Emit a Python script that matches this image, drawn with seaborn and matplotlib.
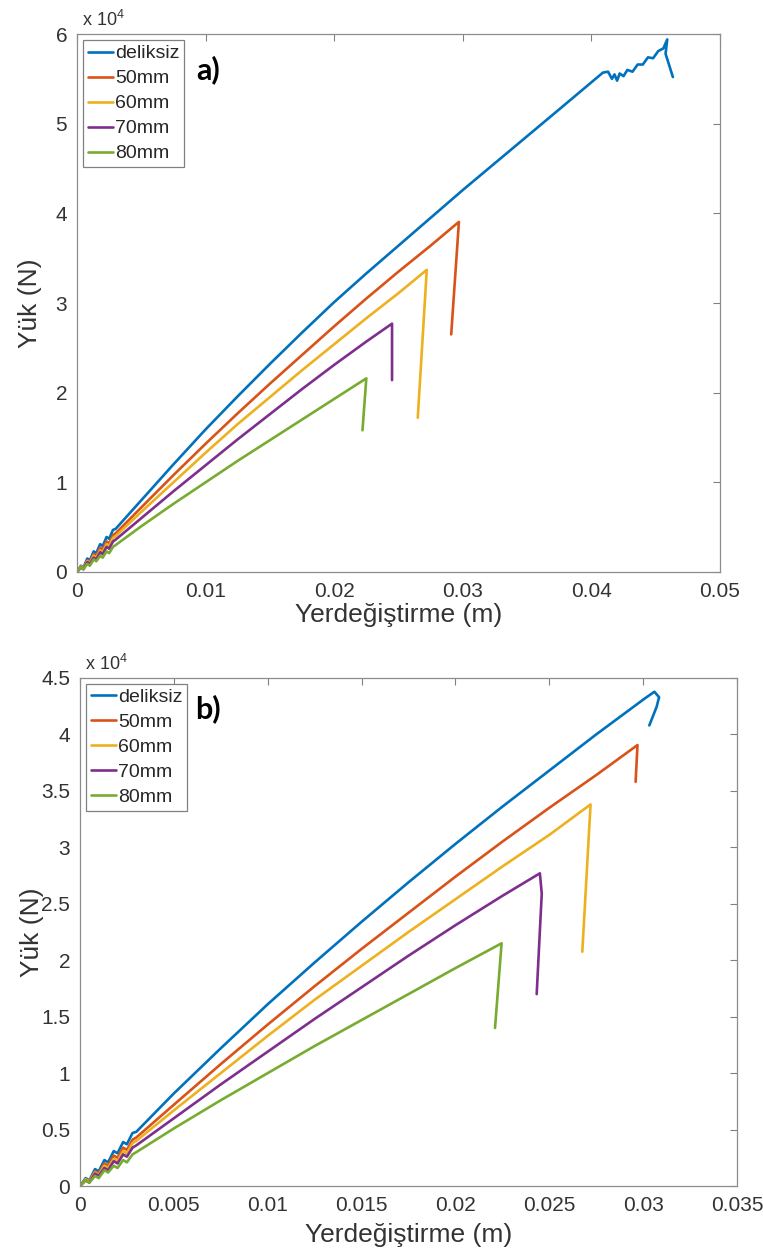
import pandas as pd
import seaborn as sns
import matplotlib.pyplot as plt
from matplotlib.lines import Line2D

sns.set_theme(style='white')
plt.rcParams['font.family'] = ['Liberation Sans', 'DejaVu Sans']
plt.rcParams['mathtext.fontset'] = 'custom'
plt.rcParams['mathtext.rm'] = 'Liberation Sans'

names = ['deliksiz', '50mm', '60mm', '70mm', '80mm']
colors = ['#0072BD', '#D95319', '#EDB120', '#7E2F8E', '#77AC30']

# load in units of 10^4 N, displacement in m
# saw-tooth start, same for both tests
start_x = [0, 0.0003, 0.0005, 0.0008, 0.001, 0.0013, 0.0015, 0.0018, 0.002, 0.0023, 0.0025, 0.0028, 0.003]
start_deliksiz = [0, 0.07, 0.05, 0.15, 0.13, 0.23, 0.21, 0.31, 0.29, 0.39, 0.37, 0.47, 0.48]
start_50 = [0, 0.06, 0.04, 0.13, 0.11, 0.20, 0.18, 0.27, 0.25, 0.34, 0.32, 0.41, 0.43]
start_60 = [0, 0.06, 0.04, 0.12, 0.10, 0.18, 0.16, 0.24, 0.22, 0.31, 0.29, 0.38, 0.40]
start_70 = [0, 0.05, 0.03, 0.11, 0.09, 0.16, 0.14, 0.22, 0.20, 0.28, 0.26, 0.34, 0.36]
start_80 = [0, 0.05, 0.03, 0.09, 0.07, 0.14, 0.12, 0.18, 0.16, 0.23, 0.21, 0.28, 0.30]

# panel a
a_deliksiz_x = [0.005, 0.0075, 0.01, 0.0125, 0.015, 0.0175, 0.02, 0.0225, 0.025, 0.0275, 0.03, 0.0325,
                0.035, 0.0375, 0.0409, 0.0413, 0.0416, 0.0418, 0.0420, 0.0422, 0.0425, 0.0428, 0.0432,
                0.0436, 0.0440, 0.0444, 0.0448, 0.0452, 0.0456, 0.0459, 0.04577, 0.04634]
a_deliksiz_y = [0.80, 1.20, 1.59, 1.96, 2.32, 2.67, 3.01, 3.33, 3.64, 3.95, 4.26, 4.56,
                4.86, 5.16, 5.57, 5.58, 5.50, 5.55, 5.48, 5.56, 5.53, 5.60, 5.58,
                5.66, 5.66, 5.74, 5.73, 5.81, 5.84, 5.94, 5.78, 5.52]
a_50_x = [0.005, 0.0075, 0.01, 0.0125, 0.015, 0.0175, 0.02, 0.0225, 0.025, 0.0275, 0.0297, 0.0291]
a_50_y = [0.72, 1.08, 1.43, 1.77, 2.10, 2.42, 2.74, 3.05, 3.35, 3.64, 3.905, 2.65]
a_60_x = [0.005, 0.0075, 0.01, 0.0125, 0.015, 0.0175, 0.02, 0.0225, 0.025, 0.0272, 0.0265]
a_60_y = [0.67, 1.00, 1.33, 1.65, 1.95, 2.25, 2.54, 2.83, 3.11, 3.37, 1.72]
a_70_x = [0.005, 0.0075, 0.01, 0.0125, 0.015, 0.0175, 0.02, 0.0225, 0.0245, 0.0245]
a_70_y = [0.60, 0.90, 1.19, 1.48, 1.76, 2.04, 2.31, 2.57, 2.77, 2.14]
a_80_x = [0.005, 0.0075, 0.01, 0.0125, 0.015, 0.0175, 0.02, 0.0225, 0.0222]
a_80_y = [0.51, 0.76, 1.00, 1.24, 1.47, 1.70, 1.93, 2.16, 1.58]

# panel b
b_deliksiz_x = [0.005, 0.0075, 0.01, 0.0125, 0.015, 0.0175, 0.02, 0.0225, 0.025, 0.0275, 0.0301,
                0.0306, 0.03085, 0.03072, 0.03033]
b_deliksiz_y = [0.82, 1.22, 1.61, 1.98, 2.34, 2.69, 3.03, 3.36, 3.68, 4.00, 4.32,
                4.378, 4.33, 4.245, 4.08]
b_50_x = [0.005, 0.0075, 0.01, 0.0125, 0.015, 0.0175, 0.02, 0.0225, 0.025, 0.0275, 0.0297, 0.0296]
b_50_y = [0.72, 1.08, 1.43, 1.77, 2.10, 2.42, 2.74, 3.05, 3.35, 3.64, 3.906, 3.58]
b_60_x = [0.005, 0.0075, 0.01, 0.0125, 0.015, 0.0175, 0.02, 0.0225, 0.025, 0.0272, 0.02676]
b_60_y = [0.67, 1.00, 1.33, 1.65, 1.95, 2.25, 2.54, 2.83, 3.11, 3.38, 2.075]
b_70_x = [0.005, 0.0075, 0.01, 0.0125, 0.015, 0.0175, 0.02, 0.0225, 0.0245, 0.0246, 0.02433]
b_70_y = [0.60, 0.90, 1.19, 1.48, 1.76, 2.04, 2.31, 2.57, 2.77, 2.59, 1.70]
b_80_x = [0.005, 0.0075, 0.01, 0.0125, 0.015, 0.0175, 0.02, 0.02246, 0.02211]
b_80_y = [0.51, 0.76, 1.00, 1.24, 1.47, 1.70, 1.93, 2.15, 1.40]

starts = [start_deliksiz, start_50, start_60, start_70, start_80]
tails_a = [(a_deliksiz_x, a_deliksiz_y), (a_50_x, a_50_y), (a_60_x, a_60_y), (a_70_x, a_70_y), (a_80_x, a_80_y)]
tails_b = [(b_deliksiz_x, b_deliksiz_y), (b_50_x, b_50_y), (b_60_x, b_60_y), (b_70_x, b_70_y), (b_80_x, b_80_y)]


def build(tails):
    frames = []
    for name, s, (tx, ty) in zip(names, starts, tails):
        frames.append(pd.DataFrame({'x': start_x + tx, 'y': s + ty, 'seri': name}))
    return pd.concat(frames, ignore_index=True)


def draw(ax, df, xmax, xticks, xlabels, ymax, yticks, ylabels, tag, tagpos, xpad):
    sns.lineplot(data=df, x='x', y='y', hue='seri', palette=colors, sort=False,
                 estimator=None, lw=1.9, ax=ax, legend=False)
    ax.set_xlim(0, xmax)
    ax.set_ylim(0, ymax)
    ax.set_xticks(xticks)
    ax.set_xticklabels(xlabels)
    ax.set_yticks(yticks)
    ax.set_yticklabels(ylabels)
    ax.tick_params(direction='in', top=True, right=True, length=5, width=0.8, color='0.5',
                   labelsize=15, labelcolor='0.2', pad=7)
    for s in ax.spines.values():
        s.set_color('0.55')
        s.set_linewidth(0.9)
    ax.set_xlabel('Yerdeğiştirme (m)', fontsize=19, color='0.2', labelpad=xpad)
    ax.set_ylabel('Yük (N)', fontsize=19, color='0.2')
    ax.yaxis.set_label_coords(-0.055, 0.5)
    ax.text(0.008, 1.008, r'x 10$^4$', transform=ax.transAxes, fontsize=13, color='0.2', va='bottom')
    handles = [Line2D([0], [0], color=c, lw=1.9) for c in colors]
    leg = ax.legend(handles, names, loc='upper left', fontsize=14, frameon=True, fancybox=False,
                    framealpha=1, edgecolor='0.5', borderaxespad=0.3, handlelength=1.3,
                    handletextpad=0.1, labelspacing=0.38, borderpad=0.25)
    leg.get_frame().set_linewidth(0.9)
    for t in leg.get_texts():
        t.set_color('0.15')
    ax.text(tagpos[0], tagpos[1], tag, transform=ax.transAxes, fontsize=22, fontweight='bold',
            family=['Lato', 'DejaVu Sans'], ha='center', va='center', color='black')


fig = plt.figure(figsize=(7.63, 12.56), dpi=100)
ax_a = fig.add_axes([0.1009, 0.5446, 0.8427, 0.4283])
ax_b = fig.add_axes([0.1048, 0.0557, 0.8611, 0.4045])

draw(ax_a, build(tails_a), 0.05, [0, 0.01, 0.02, 0.03, 0.04, 0.05],
     ['0', '0.01', '0.02', '0.03', '0.04', '0.05'], 6, [0, 1, 2, 3, 4, 5, 6],
     ['0', '1', '2', '3', '4', '5', '6'], 'a)', (0.204, 0.933), 2)
draw(ax_b, build(tails_b), 0.035, [0, 0.005, 0.01, 0.015, 0.02, 0.025, 0.03, 0.035],
     ['0', '0.005', '0.01', '0.015', '0.02', '0.025', '0.03', '0.035'], 4.5,
     [0, 0.5, 1, 1.5, 2, 2.5, 3, 3.5, 4, 4.5],
     ['0', '0.5', '1', '1.5', '2', '2.5', '3', '3.5', '4', '4.5'], 'b)', (0.195, 0.939), 6)

fig.savefig('out.png', dpi=100)
